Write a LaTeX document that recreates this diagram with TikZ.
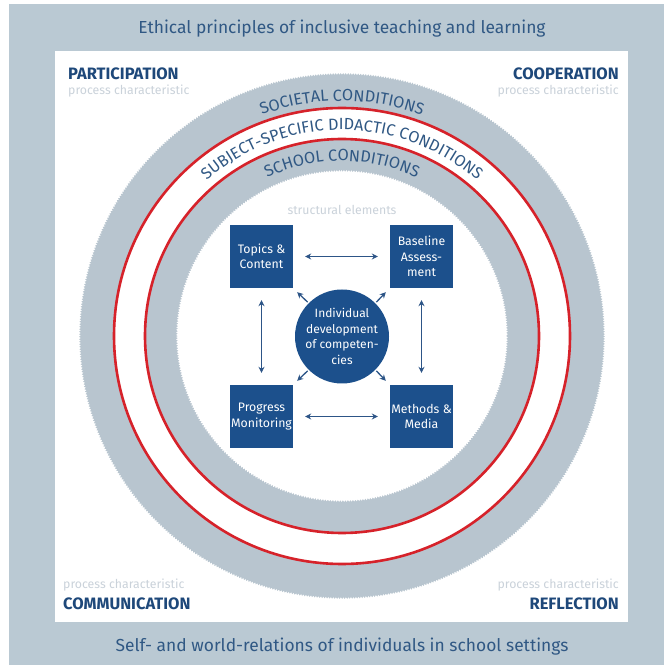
\documentclass[tikz,border=0pt]{standalone}
\usepackage{fontspec}
\setmainfont{Fira Sans}
\usetikzlibrary{decorations.text,decorations.pathmorphing,arrows.meta}
\definecolor{bggray}{RGB}{186,201,211}
\definecolor{ringgray}{RGB}{184,197,207}
\definecolor{boxblue}{RGB}{28,80,140}
\definecolor{textblue}{RGB}{48,88,132}
\definecolor{headblue}{RGB}{30,72,122}
\definecolor{lightgray}{RGB}{202,210,218}
\definecolor{redline}{RGB}{214,34,42}
\definecolor{arrblue}{RGB}{45,85,135}
\tikzset{
  boxst/.style={fill=boxblue, minimum size=63, inner sep=0pt, text=white, align=center, font=\fontsize{12.3}{15.5}\selectfont},
  circst/.style={circle, fill=boxblue, minimum size=94, inner sep=0pt, text=white, align=center, font=\fontsize{12}{15.5}\selectfont},
  headst/.style={text=headblue, font=\fontsize{16.5}{18}\selectfont\bfseries, inner sep=0pt},
  procst/.style={text=lightgray, font=\fontsize{12.3}{14}\selectfont, inner sep=0pt},
  titlest/.style={text=textblue, font=\fontsize{17.4}{20}\selectfont, inner sep=0pt},
  ringtxt/.style={decorate, decoration={text along path, text align=center,
    text={|\fontsize{16.2}{19}\selectfont\color{textblue}|#1}}},
  arr/.style={draw=arrblue, line width=1.3pt, arrows={-Stealth[length=6pt,width=6pt]}},
  darr/.style={draw=arrblue, line width=1.3pt, arrows={Stealth[length=6pt,width=6pt]-Stealth[length=6pt,width=6pt]}},
  redst/.style={draw=redline, line width=2.6pt},
  serr/.style={decorate, decoration={zigzag, segment length=2.5, amplitude=0.9}}
}
\begin{document}
\begin{tikzpicture}[x=1pt,y=1pt]
\useasboundingbox (0,0) rectangle (664,665);
\fill[white] (0,0) rectangle (664,665);
\fill[bggray] (9,0) rectangle (664,661);
\fill[white] (55,43) rectangle (628,614);
\coordinate (C) at (342,329);
% rings
\fill[ringgray, serr] (C) circle[radius=262];
\fill[white] (C) circle[radius=228];
\fill[ringgray] (C) circle[radius=197];
\fill[white, serr] (C) circle[radius=165];
\draw[redst] (C) circle[radius=228];
\draw[redst] (C) circle[radius=197];
% ring texts
\path[ringtxt={SOCIETAL CONDITIONS}]
  ([shift={(170:235)}]C) arc[start angle=170, end angle=10, radius=235];
\path[ringtxt={SUBJECT-SPECIFIC DIDACTIC CONDITIONS}]
  ([shift={(170:206)}]C) arc[start angle=170, end angle=10, radius=206];
\path[ringtxt={SCHOOL CONDITIONS}]
  ([shift={(170:175)}]C) arc[start angle=170, end angle=10, radius=175];
% titles
\node[titlest] (t1) at (342,636) {Ethical principles of inclusive teaching and learning};
\node[titlest] (t2) at (342,18) {Self- and world-relations of individuals in school settings};
% corners
\node[headst, anchor=west] (h1) at (68,591) {PARTICIPATION};
\node[procst, anchor=west] (p1) at (68,574) {process characteristic};
\node[headst, anchor=east] (h2) at (619,591) {COOPERATION};
\node[procst, anchor=east] (p2) at (619,574) {process characteristic};
\node[procst, anchor=west] (p3) at (63,80) {process characteristic};
\node[headst, anchor=west] (h3) at (63,61) {COMMUNICATION};
\node[procst, anchor=east] (p4) at (619,80) {process characteristic};
\node[headst, anchor=east] (h4) at (619,61) {REFLECTION};
% center
\node[procst] (se) at (342,455) {structural elements};
\node[boxst] (tc) at (261.5,408.5) {Topics \&\\Content};
\node[boxst] (ba) at (421.5,408.5) {Baseline\\Assess-\\ment};
\node[boxst] (pm) at (261.5,248.5) {Progress\\Monitoring};
\node[boxst] (mm) at (421.5,248.5) {Methods \&\\Media};
\node[circst] (ic) at (342,328.5) {Individual\\development\\of competen-\\cies};
% arrows
\draw[darr] ([xshift=12]tc.east) -- ([xshift=-12]ba.west);
\draw[darr] ([xshift=12]pm.east) -- ([xshift=-12]mm.west);
\draw[darr] ([yshift=-12]tc.south) -- ([yshift=12]pm.north);
\draw[darr] ([yshift=-12]ba.south) -- ([yshift=12]mm.north);
\draw[arr] ([shift={(-1,1)}]ic.135) -- ([shift={(4,-4)}]tc.south east);
\draw[arr] ([shift={(1,1)}]ic.45) -- ([shift={(-4,-4)}]ba.south west);
\draw[arr] ([shift={(-1,-1)}]ic.225) -- ([shift={(4,4)}]pm.north east);
\draw[arr] ([shift={(1,-1)}]ic.315) -- ([shift={(-4,4)}]mm.north west);
\end{tikzpicture}
\end{document}
